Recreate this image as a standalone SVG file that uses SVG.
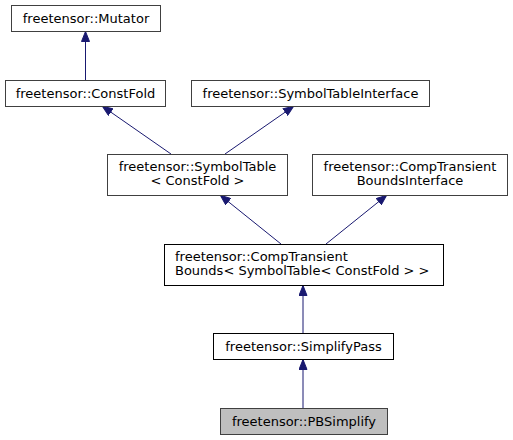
<svg xmlns="http://www.w3.org/2000/svg" width="513" height="440" viewBox="0 0 513 440">
<style>
text{font-family:"DejaVu Sans",sans-serif;font-size:13px;fill:#000}
.n{fill:#fff;stroke:#404040;stroke-width:1}
.d{fill:#fff;stroke:#000;stroke-width:1}
.c{fill:#bfbfbf;stroke:#404040;stroke-width:1}
.e{stroke:#191970;stroke-width:1;fill:none}
.m{text-anchor:middle}
</style>
<defs>
<marker id="ah" viewBox="0 0 11 9" refX="11" refY="4.5" markerWidth="11" markerHeight="9" markerUnits="userSpaceOnUse" orient="auto">
<path d="M0.5,0.5 L10.5,4.5 L0.5,8.5 z" fill="#191970" stroke="#191970"/>
</marker>
</defs>
<rect width="513" height="440" fill="#fff"/>
<g id="edges">
<line class="e" x1="85.5" y1="80" x2="85.5" y2="31" marker-end="url(#ah)"/>
<line class="e" x1="171" y1="154" x2="102" y2="106" marker-end="url(#ah)"/>
<line class="e" x1="225" y1="154" x2="294" y2="106" marker-end="url(#ah)"/>
<line class="e" x1="281" y1="244" x2="220" y2="195" marker-end="url(#ah)"/>
<line class="e" x1="326" y1="244" x2="387" y2="195" marker-end="url(#ah)"/>
<line class="e" x1="303" y1="333" x2="303" y2="285" marker-end="url(#ah)"/>
<line class="e" x1="303" y1="408" x2="303" y2="359" marker-end="url(#ah)"/>
</g>
<g id="mutator"><rect class="n" x="11.5" y="5.5" width="149" height="26"/><text class="m" x="86" y="23">freetensor::Mutator</text></g>
<g id="constfold"><rect class="n" x="5.5" y="80.5" width="160" height="26"/><text class="m" x="85.5" y="98">freetensor::ConstFold</text></g>
<g id="symboltableinterface"><rect class="n" x="191.5" y="80.5" width="238" height="26"/><text class="m" x="310.5" y="98">freetensor::SymbolTableInterface</text></g>
<g id="symboltable"><rect class="n" x="107.5" y="154.5" width="180" height="41"/><text class="m" x="197.5" y="171">freetensor::SymbolTable</text><text class="m" x="197.5" y="185">&lt; ConstFold &gt;</text></g>
<g id="comptransientboundsinterface"><rect class="n" x="312.5" y="154.5" width="195" height="41"/><text class="m" x="410" y="171">freetensor::CompTransient</text><text class="m" x="410" y="185">BoundsInterface</text></g>
<g id="comptransientbounds"><rect class="d" x="164.5" y="244.5" width="279" height="41"/><text x="175" y="261">freetensor::CompTransient</text><text x="175" y="275">Bounds&lt; SymbolTable&lt; ConstFold &gt; &gt;</text></g>
<g id="simplifypass"><rect class="d" x="213.5" y="333.5" width="180" height="26"/><text class="m" x="303.5" y="351">freetensor::SimplifyPass</text></g>
<g id="pbsimplify"><rect class="c" x="220.5" y="408.5" width="167" height="26"/><text class="m" x="304" y="426">freetensor::PBSimplify</text></g>
</svg>
